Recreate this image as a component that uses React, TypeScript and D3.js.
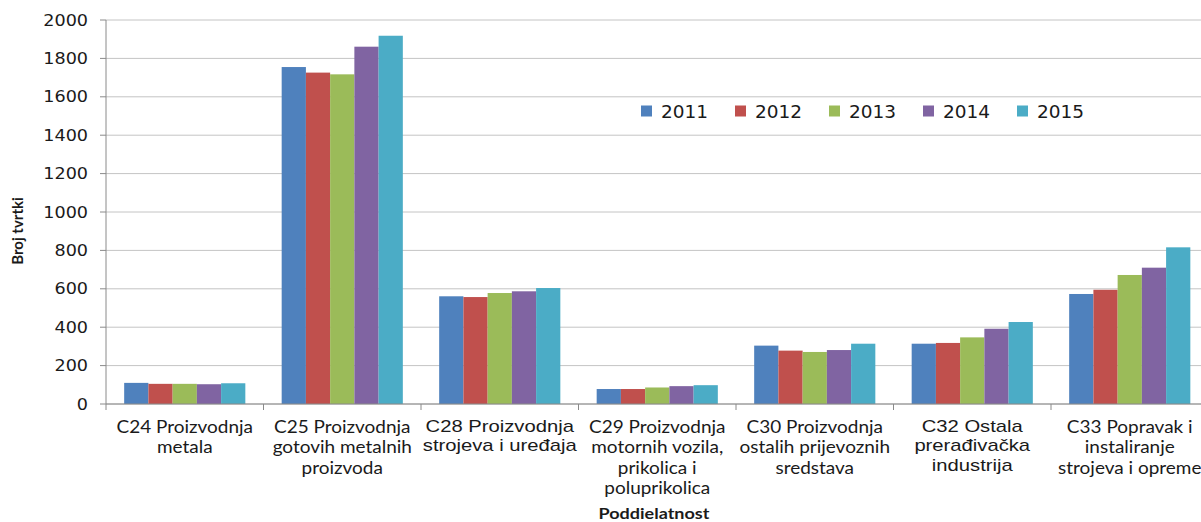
import React from "react";
import * as d3 from "d3";

const categories = ["C24", "C25", "C28", "C29", "C30", "C32", "C33"];
const categoryLabels: string[][] = [
  ["C24 Proizvodnja", "metala"],
  ["C25 Proizvodnja", "gotovih metalnih", "proizvoda"],
  ["C28 Proizvodnja", "strojeva i uređaja"],
  ["C29 Proizvodnja", "motornih vozila,", "prikolica i", "poluprikolica"],
  ["C30 Proizvodnja", "ostalih prijevoznih", "sredstava"],
  ["C32 Ostala", "prerađivačka", "industrija"],
  ["C33 Popravak i", "instaliranje", "strojeva i opreme"],
];
// categories whose labels are set in the plain sans-serif face instead of the humanist one
const arialLabels = ["C28", "C32"];

const years = ["2011", "2012", "2013", "2014", "2015"];
const values2011 = [110, 1755, 561, 78, 304, 314, 573];
const values2012 = [105, 1726, 557, 78, 278, 318, 595];
const values2013 = [105, 1717, 578, 86, 271, 347, 672];
const values2014 = [103, 1861, 587, 93, 281, 392, 710];
const values2015 = [108, 1918, 604, 98, 314, 427, 816];
const seriesValues = [values2011, values2012, values2013, values2014, values2015];
const colors = ["#4F81BD", "#C0504D", "#9BBB59", "#8064A2", "#4BACC6"];
const yTicks = [0, 200, 400, 600, 800, 1000, 1200, 1400, 1600, 1800, 2000];

const W = 1201;
const H = 522;
const left = 106;
// the plot area runs slightly past the right edge of the canvas
const right = 1208.5;
const top = 20;
const bottom = 404;

export default function App() {
  const x = d3.scaleBand<string>().domain(categories).range([left, right]).padding(0);
  const inner = d3
    .scaleBand<string>()
    .domain(years)
    .range([0, x.bandwidth()])
    .paddingInner(0)
    .paddingOuter(0.75);
  const y = d3.scaleLinear().domain([0, 2000]).range([bottom, top]);

  const humanist = "Lato, 'Open Sans', sans-serif";
  const sans = "'Liberation Sans', Arial, sans-serif";
  const verdana = "'DejaVu Sans', Verdana, sans-serif";

  const boundaries = categories.map((c) => x(c)!).concat([right]);

  return (
    <svg
      width={W}
      height={H}
      style={{ position: "absolute", left: 0, top: 0, background: "#fff" }}
    >
      {/* gridlines */}
      {yTicks.map((t) => (
        <line
          key={"g" + t}
          x1={left}
          x2={right}
          y1={y(t)}
          y2={y(t)}
          stroke="#c4c4c4"
          strokeWidth={1}
        />
      ))}
      {/* bars */}
      {seriesValues.map((vals, si) =>
        vals.map((v, ci) => (
          <rect
            key={`b${si}-${ci}`}
            x={x(categories[ci])! + inner(years[si])!}
            y={y(v)}
            width={inner.bandwidth()}
            height={y(0) - y(v)}
            fill={colors[si]}
          />
        ))
      )}
      {/* y axis */}
      <line x1={left} x2={left} y1={top} y2={bottom} stroke="#8a8a8a" />
      {yTicks.map((t) => (
        <g key={"t" + t}>
          <line x1={left - 6} x2={left} y1={y(t)} y2={y(t)} stroke="#8a8a8a" />
          <text
            transform={`translate(88,${y(t) + 5.5}) scale(1.1,1)`}
            textAnchor="end"
            fontFamily={verdana}
            fontSize={16}
            fill="#1a1a1a"
          >
            {t}
          </text>
        </g>
      ))}
      {/* x axis */}
      <line x1={left} x2={right} y1={bottom} y2={bottom} stroke="#8a8a8a" />
      {boundaries.map((b, i) => (
        <line key={"xt" + i} x1={b} x2={b} y1={bottom} y2={bottom + 6} stroke="#8a8a8a" />
      ))}
      {/* category labels */}
      {categories.map((c, ci) => {
        const cx = x(c)! + x.bandwidth() / 2;
        const isArial = arialLabels.includes(c);
        const y0 = isArial ? 431.5 : 432.5;
        const step = isArial ? 19.5 : 20.5;
        return categoryLabels[ci].map((line, li) => (
          <text
            key={`l${ci}-${li}`}
            transform={`translate(${cx},${y0 + li * step}) scale(${isArial ? 1.19 : 1.15},1)`}
            textAnchor="middle"
            fontFamily={isArial ? sans : humanist}
            fontSize={isArial ? 17 : 16.5}
            fill="#1a1a1a"
          >
            {line}
          </text>
        ));
      })}
      {/* axis titles */}
      <text
        transform={`translate(654,519) scale(1.2,1)`}
        textAnchor="middle"
        fontFamily={humanist}
        fontWeight="bold"
        fontSize={15}
        fill="#1a1a1a"
      >
        Poddielatnost
      </text>
      <text
        transform={`translate(23,231) rotate(-90)`}
        textAnchor="middle"
        fontFamily={humanist}
        fontWeight="bold"
        fontSize={15}
        fill="#1a1a1a"
      >
        Broj tvrtki
      </text>
      {/* legend */}
      {years.map((yr, i) => (
        <g key={"lg" + yr} transform={`translate(${641 + i * 94},0)`}>
          <rect x={0} y={105.5} width={11} height={11} fill={colors[i]} />
          <text x={20} y={118} fontFamily={verdana} fontSize={18.5} fill="#1a1a1a">
            {yr}
          </text>
        </g>
      ))}
    </svg>
  );
}
